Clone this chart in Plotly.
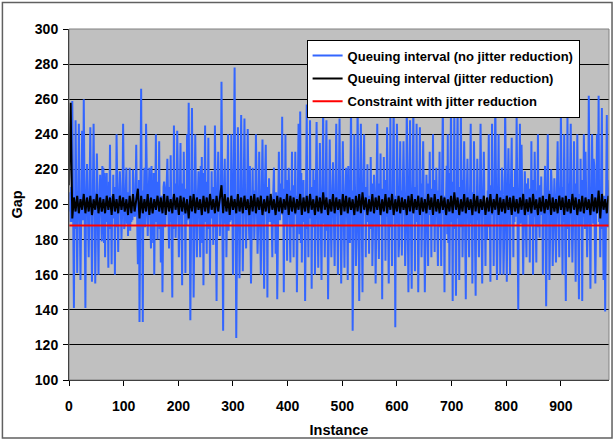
import plotly.graph_objects as go

# Queuing interval without jitter reduction, one value per instance (read/estimated from picture)
gap_no_jitter = [
    200,196,207, 190,210,190, 259,193,205, 141,204,186, 248,198,212, 161,189,203, 246,207,195, 157,185,200, 242,201,191, 260,212,197,
    141,194,209, 223,206,188, 170,191,214, 244,203,193, 156,199,186, 246,208,202, 155,187,196, 229,211,194, 160,195,205, 217,202,189,
    179,222,183, 221,178,218, 170,197,208, 218,190,204, 164,213,199, 234,186,195, 166,205,192, 217,192,210, 160,209,187, 240,200,214,
    173,196,207, 219,210,190, 180,193,205, 246,204,186, 188,198,212, 221,189,203, 182,207,195, 221,185,200, 190,201,191, 220,212,197,
    193,194,209, 234,206,188, 166,191,214, 133,203,193, 266,199,186, 133,208,202, 221,187,196, 246,211,194, 182,195,205, 221,202,189,
    175,222,183, 210,178,218, 160,197,208, 240,190,204, 180,213,199, 236,186,195, 167,205,192, 150,192,210, 213,209,187, 194,200,214,
    226,196,207, 175,210,190, 228,193,205, 147,204,186, 245,198,212, 181,189,203, 242,207,195, 170,185,200, 235,201,191, 154,212,197,
    230,194,209, 161,206,188, 240,191,214, 258,203,193, 134,199,186, 255,208,202, 147,187,196, 240,211,194, 170,195,205, 219,202,189,
    170,222,183, 227,178,218, 154,197,208, 245,190,204, 172,213,199, 238,186,195, 160,205,192, 219,192,210, 177,209,187, 245,200,214,
    145,196,207, 230,210,190, 182,193,205, 270,204,186, 128,198,212, 226,189,203, 170,207,195, 240,185,200, 190,201,191, 240,212,197,
    160,194,209, 278,206,188, 124,191,214, 244,203,193, 158,199,186, 251,208,202, 162,187,196, 249,211,194, 175,195,205, 243,202,189,
    180,222,183, 155,178,218, 221,197,208, 180,190,204, 240,213,199, 172,186,195, 230,205,192, 160,192,210, 237,209,187, 152,200,214,
    234,196,207, 147,210,190, 215,193,205, 190,204,186, 170,198,212, 221,189,203, 172,207,195, 146,185,200, 230,201,191, 210,212,197,
    250,194,209, 150,206,188, 240,191,214, 168,203,193, 221,199,186, 167,208,202, 230,187,196, 170,211,194, 230,195,205, 150,202,189,
    246,222,183, 253,178,218, 167,197,208, 214,190,204, 145,213,199, 257,186,195, 170,205,192, 248,192,210, 152,209,187, 220,200,214,
    160,196,207, 247,210,190, 164,193,205, 235,204,186, 157,198,212, 258,189,203, 170,207,195, 248,185,200, 146,201,191, 237,212,197,
    170,194,209, 224,206,188, 165,191,214, 246,203,193, 160,199,186, 249,208,202, 155,187,196, 236,211,194, 164,195,205, 221,202,189,
    157,222,183, 211,178,218, 257,197,208, 128,190,204, 240,213,199, 165,186,195, 260,205,192, 145,192,210, 246,209,187, 150,200,214,
    240,196,207, 170,210,190, 223,193,205, 172,204,186, 227,198,212, 165,189,203, 217,207,195, 155,185,200, 246,201,191, 169,212,197,
    229,194,209, 146,206,188, 227,191,214, 168,203,193, 244,199,186, 155,208,202, 250,187,196, 165,211,194, 258,195,205, 130,202,189,
    246,222,183, 170,178,218, 236,197,208, 171,190,204, 236,213,199, 165,186,195, 258,205,192, 150,192,210, 248,209,187, 152,200,214,
    258,196,207, 162,210,190, 246,193,205, 150,204,186, 244,198,212, 170,189,203, 236,207,195, 150,185,200, 217,201,191, 165,212,197,
    230,194,209, 170,206,188, 240,191,214, 173,203,193, 221,199,186, 165,208,202, 230,187,196, 165,211,194, 258,195,205, 150,202,189,
    205,222,183, 240,178,218, 160,197,208, 257,190,204, 145,213,199, 255,186,195, 148,205,192, 258,192,210, 157,209,187, 256,200,214,
    170,196,207, 236,210,190, 146,193,205, 226,204,186, 170,198,212, 246,189,203, 155,207,195, 236,185,200, 148,201,191, 226,212,197,
    170,194,209, 246,206,188, 155,191,214, 230,203,193, 165,199,186, 180,208,202, 240,187,196, 156,211,194, 246,195,205, 165,202,189,
    258,222,183, 157,178,218, 240,197,208, 160,190,204, 221,213,199, 160,186,195, 258,205,192, 156,192,210, 232,209,187, 160,200,214,
    238,196,207, 170,210,190, 220,193,205, 250,204,186, 140,198,212, 246,189,203, 234,207,195, 160,185,200, 219,201,191, 170,212,197,
    215,194,209, 167,206,188, 236,191,214, 160,203,193, 230,199,186, 167,208,202, 240,187,196, 181,211,194, 216,195,205, 160,202,189,
    207,222,183, 142,178,218, 240,197,208, 157,190,204, 220,213,199, 165,186,195, 215,205,192, 167,192,210, 236,209,187, 170,200,214,
    251,196,207, 160,210,190, 240,193,205, 145,204,186, 251,198,212, 170,189,203, 246,207,195, 167,185,200, 236,201,191, 156,212,197,
    240,194,209, 146,206,188, 226,191,214, 145,203,193, 240,199,186, 230,208,202, 170,187,196, 262,211,194, 152,195,205, 240,202,189,
    226,222,183, 155,178,218, 240,197,208, 262,190,204, 170,213,199, 255,186,195, 157,205,192, 139,192,210, 251,209,187, 200,200,214,
]

# Queuing interval with jitter reduction, every 3rd instance (read/estimated from picture)
JITTER_STEP = 3
gap_jitter = [
    211, 258, 192, 204, 196, 205, 195, 203, 197, 206,
    195, 204, 196, 205, 194, 203, 197, 206, 195, 204,
    196, 203, 195, 205, 197, 204, 194, 206, 196, 203,
    195, 205, 197, 204, 196, 203, 194, 205, 195, 206,
    196, 204, 209, 192, 205, 195, 203, 196, 206, 194,
    204, 195, 203, 197, 205, 196, 204, 195, 206, 194,
    205, 196, 203, 195, 206, 197, 204, 194, 205, 196,
    204, 195, 203, 192, 205, 196, 206, 195, 204, 197,
    203, 194, 205, 196, 204, 195, 206, 197, 203, 195,
    205, 196, 204, 211, 195, 206, 196, 204, 194, 205,
    197, 203, 195, 206, 196, 204, 195, 205, 197, 203,
    194, 205, 196, 206, 195, 204, 197, 205, 194, 203,
    196, 205, 195, 206, 197, 203, 194, 205, 196, 204,
    195, 203, 197, 206, 194, 205, 196, 204, 195, 203,
    197, 206, 194, 204, 196, 205, 195, 206, 197, 203,
    194, 205, 196, 204, 195, 207, 197, 204, 194, 203,
    196, 206, 195, 204, 197, 203, 194, 206, 196, 205,
    195, 204, 197, 203, 194, 205, 196, 206, 195, 207,
    197, 204, 194, 203, 196, 206, 195, 204, 197, 205,
    194, 203, 196, 206, 195, 204, 197, 206, 194, 203,
    196, 205, 195, 204, 197, 203, 194, 205, 196, 206,
    195, 203, 197, 205, 194, 204, 196, 203, 195, 206,
    197, 204, 194, 206, 196, 203, 195, 205, 197, 204,
    194, 203, 196, 205, 195, 207, 197, 204, 194, 203,
    196, 206, 195, 204, 197, 203, 194, 206, 196, 205,
    195, 203, 197, 205, 194, 204, 196, 206, 195, 203,
    197, 206, 194, 204, 196, 203, 195, 205, 197, 204,
    194, 205, 196, 203, 195, 204, 197, 206, 194, 203,
    196, 204, 195, 206, 197, 203, 194, 204, 196, 205,
    195, 203, 197, 206, 194, 204, 196, 203, 195, 205,
    197, 204, 194, 205, 196, 203, 195, 206, 197, 204,
    194, 203, 196, 205, 195, 204, 197, 203, 194, 206,
    196, 204, 195, 208, 192, 206, 197, 203, 195, 205,
]

constraint_value = 188
x_max = 988
x_ticks = [0, 100, 200, 300, 400, 500, 600, 700, 800, 900]
y_ticks = [100, 120, 140, 160, 180, 200, 220, 240, 260, 280, 300]

series_names = [
    "Queuing interval (no jitter reduction)",
    "Queuing interval (jitter reduction)",
    "Constraint with jitter reduction",
]

x_blue = list(range(len(gap_no_jitter)))
x_black = [i * JITTER_STEP for i in range(len(gap_jitter))]

FONT = "Liberation Sans, Arial, sans-serif"

fig = go.Figure()
fig.add_trace(go.Scatter(x=x_blue, y=gap_no_jitter, mode="lines", name=series_names[0],
                         line=dict(color="#3366FF", width=2), legendgroup="a"))
fig.add_trace(go.Scatter(x=x_black, y=gap_jitter, mode="lines", name=series_names[1],
                         line=dict(color="#000000", width=2), legendgroup="b"))
fig.add_trace(go.Scatter(x=[0, x_max], y=[constraint_value, constraint_value], mode="lines",
                         name=series_names[2], line=dict(color="#FF0000", width=2), legendgroup="c"))

fig.update_layout(
    width=615, height=441,
    margin=dict(l=69, r=6, t=29, b=61),
    paper_bgcolor="white",
    plot_bgcolor="#C0C0C0",
    font=dict(family=FONT, size=14, color="black"),
    showlegend=True,
    legend=dict(
        x=0.44, y=0.97, xanchor="left", yanchor="top",
        bgcolor="white", bordercolor="black", borderwidth=1,
        font=dict(family=FONT, size=13, color="black", weight="bold"),
        tracegroupgap=3,
        itemwidth=30,
    ),
    xaxis=dict(
        range=[0, x_max], tickvals=x_ticks, ticks="outside", ticklen=5,
        tickcolor="black", showline=True, linecolor="black", linewidth=1,
        showgrid=False, zeroline=False, automargin=False,
        tickfont=dict(family=FONT, size=14, weight="bold"),
        ticklabelstandoff=8,
        title=dict(text="<b>Instance</b>", font=dict(family=FONT, size=14.5), standoff=12),
    ),
    yaxis=dict(
        range=[100, 300], tickvals=y_ticks, ticks="outside", ticklen=5,
        tickcolor="black", showline=True, linecolor="black", linewidth=1,
        showgrid=True, gridcolor="black", gridwidth=1, zeroline=False, automargin=False,
        tickfont=dict(family=FONT, size=14, weight="bold"),
        ticklabelstandoff=2,
        title=dict(text="<b>Gap</b>", font=dict(family=FONT, size=14.5), standoff=8),
    ),
    shapes=[
        dict(type="rect", xref="paper", yref="paper", x0=0, x1=1, y0=0, y1=1,
             line=dict(color="#808080", width=1), layer="above"),
        dict(type="rect", xref="paper", yref="paper",
             x0=-0.1233, x1=1.0056, y0=-0.1655, y1=1.0756,
             line=dict(color="#606060", width=1.5)),
    ],
)

fig.write_html("out.html", config={"displayModeBar": False})

# remove the default page margin so the figure sits at the window's top-left corner
with open("out.html", "r", encoding="utf-8") as f:
    html = f.read()
html = html.replace("<body>", '<body style="margin:0;padding:0;overflow:hidden;">', 1)
with open("out.html", "w", encoding="utf-8") as f:
    f.write(html)
